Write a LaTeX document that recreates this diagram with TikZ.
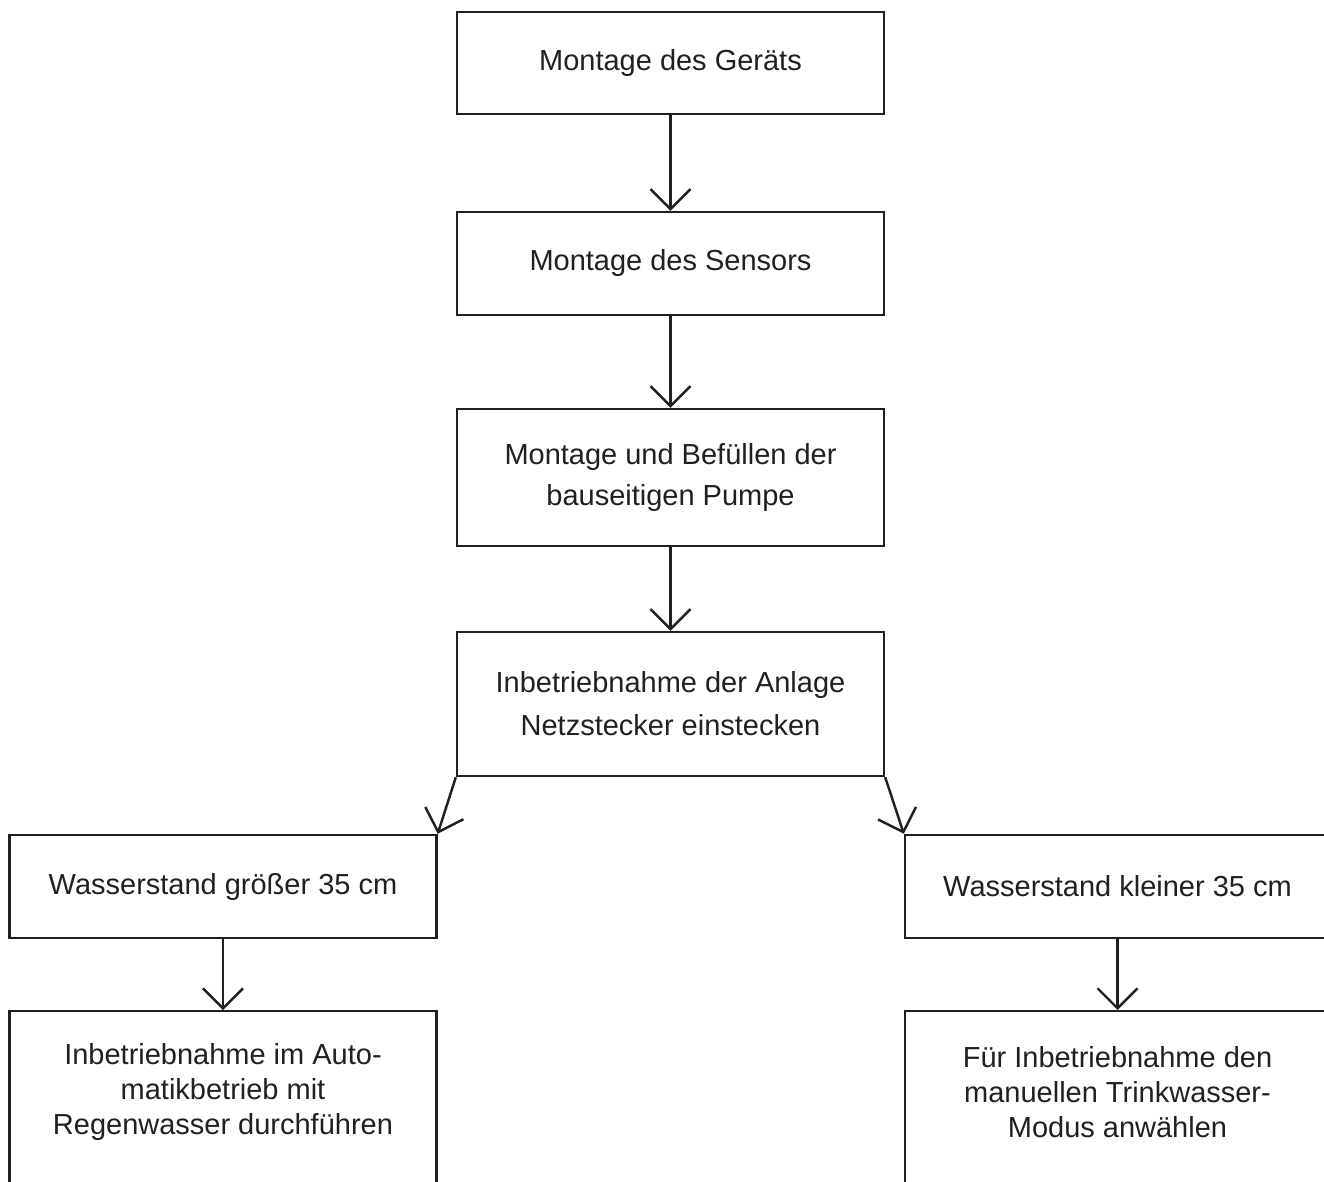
\documentclass[tikz,border=0pt]{standalone}
\usepackage{fontspec}
\setmainfont{Liberation Sans}
\usetikzlibrary{arrows.meta}
\definecolor{ink}{HTML}{231F20}

\begin{document}
\begin{tikzpicture}[x=0.02cm,y=-0.02cm,
    box/.style={draw=ink, line width=1.4pt, minimum width=8.54cm, inner sep=0pt},
    txt/.style={align=center, text=ink, font=\fontsize{16.5}{20}\selectfont},
    flow/.style={draw=ink, line width=1.4pt, -{Straight Barb[length=0.4cm, width=0.8cm]}}]

    \useasboundingbox (0,0) rectangle (1324,1182);
    \clip (0,0) rectangle (1324,1182);

    % Middle column
    \node[box, txt, minimum height=2.04cm] (geraet) at (670.5,63) {Montage des Geräts};
    \node[box, txt, minimum height=2.06cm] (sensor) at (670.5,263.5) {Montage des Sensors};
    \node[box, txt, minimum height=2.74cm] (pumpe) at (670.5,477.5) {Montage und Befüllen der\\[3pt] bauseitigen Pumpe};
    \node[box, txt, minimum height=2.88cm] (anlage) at (670.5,704) {Inbetriebnahme der Anlage\\[4.5pt] Netzstecker einstecken};

    % Left branch
    \node[box, txt, minimum height=2.06cm] (gross) at (223,886.5) {Wasserstand größer 35 cm};
    \node[box, minimum height=3.6cm, anchor=north] (auto) at (223,1010) {};
    \node[txt] (autotxt) at (223,1092) {Inbetriebnahme im Auto-\\matikbetrieb mit\\Regenwasser durchführen};

    % Right branch
    \node[box, txt, minimum height=2.06cm, minimum width=8.5cm] (klein) at (1117.5,886.5) {Wasserstand kleiner 35 cm};
    \node[box, minimum height=3.6cm, minimum width=8.5cm, anchor=north] (manuell) at (1117.5,1010) {};
    \node[txt] (manuelltxt) at (1117.5,1092) {Für Inbetriebnahme den\\manuellen Trinkwasser-\\Modus anwählen};

    % Arrows
    \draw[flow] (geraet) -- (sensor);
    \draw[flow] (sensor) -- (pumpe);
    \draw[flow] (pumpe) -- (anlage);
    \draw[flow] (anlage.south west) -- (gross.north east);
    \draw[flow] (anlage.south east) -- (klein.north west);
    \draw[flow] (gross) -- (auto);
    \draw[flow] (klein) -- (manuell);

\end{tikzpicture}
\end{document}
